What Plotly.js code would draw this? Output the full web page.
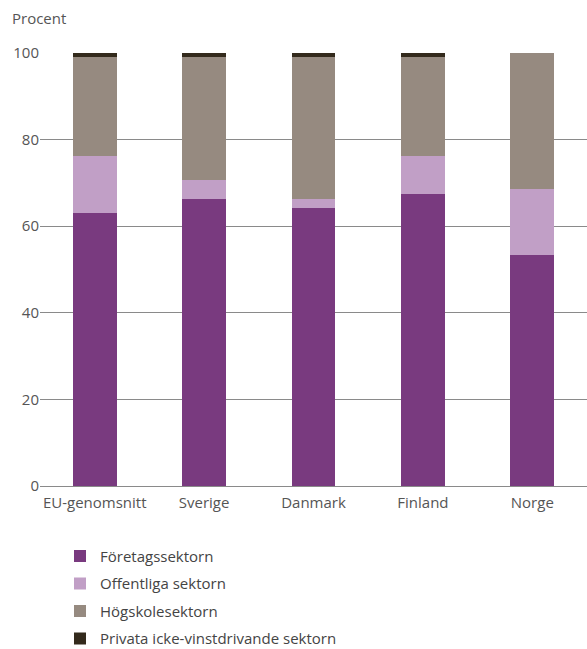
<!DOCTYPE html>
<html>
<head>
<meta charset="utf-8">
<script src="https://cdn.plot.ly/plotly-3.0.1.min.js"></script>
<style>html,body{margin:0;padding:0;background:#fff;}#chart{width:587px;height:649px;}</style>
</head>
<body>
<div id="chart"></div>
<script>
const categories = ["EU-genomsnitt", "Sverige", "Danmark", "Finland", "Norge"];
const foretag = [63.1, 66.3, 64.1, 67.4, 53.3];
const offentliga = [13.1, 4.4, 2.2, 8.8, 15.3];
const hogskole = [22.9, 28.4, 32.8, 22.9, 31.4];
const privata = [0.9, 0.9, 0.9, 0.9, 0];
const seriesNames = ["Företagssektorn", "Offentliga sektorn", "Högskolesektorn", "Privata icke-vinstdrivande sektorn"];
const seriesColors = ["#793a7f", "#c19fc6", "#968a80", "#332a1c"];
const yTicks = [0, 20, 40, 60, 80, 100];

const values = [foretag, offentliga, hogskole, privata];
const traces = values.map((v, i) => ({
  type: "bar",
  x: categories,
  y: v,
  name: seriesNames[i],
  legendgroup: "g" + i,
  marker: {color: seriesColors[i], line: {width: 0}},
  hoverinfo: "x+y+name"
}));

const font = "'Open Sans', Lato, sans-serif";
const layout = {
  width: 587, height: 649,
  margin: {l: 40, r: 0, t: 53, b: 163, autoexpand: false},
  barmode: "stack",
  bargap: 0.6,
  paper_bgcolor: "#fff",
  plot_bgcolor: "#fff",
  font: {family: font, color: "#555", size: 14},
  xaxis: {
    showgrid: false, zeroline: false, showline: false, automargin: false,
    ticks: "", ticklabelstandoff: 6, tickfont: {size: 15, color: "#555"}
  },
  yaxis: {
    range: [0, 100], tickvals: yTicks, ticktext: yTicks.map(String),
    showgrid: true, gridcolor: "#8a8a8a", gridwidth: 1, automargin: false,
    zeroline: true, zerolinecolor: "#8a8a8a", zerolinewidth: 1,
    showline: false, ticks: "", tickfont: {size: 15, color: "#555"},
    fixedrange: true
  },
  showlegend: true,
  legend: {
    x: (60 - 40) / 547, xanchor: "left",
    y: -0.124, yanchor: "top",
    traceorder: "grouped", tracegroupgap: 5,
    font: {size: 15, color: "#444"},
    bgcolor: "rgba(0,0,0,0)"
  },
  annotations: [{
    text: "Procent", xref: "paper", yref: "paper",
    x: -30 / 547, y: 1 + 35 / 433, xanchor: "left", yanchor: "middle",
    showarrow: false, font: {size: 15, color: "#555"}
  }]
};

Plotly.newPlot("chart", traces, layout, {displayModeBar: false, staticPlot: true});
</script>
</body>
</html>
